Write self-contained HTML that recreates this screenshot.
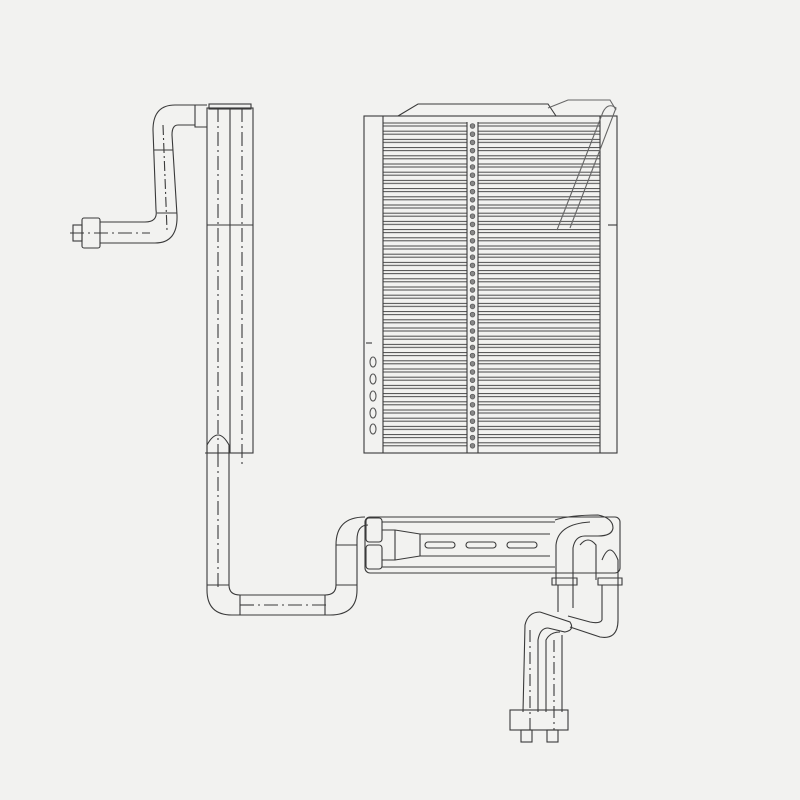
<!DOCTYPE html>
<html><head><meta charset="utf-8"><style>html,body{margin:0;padding:0;background:#f2f2f0}svg{display:block}</style></head>
<body>
<svg width="800" height="800" viewBox="0 0 800 800" xmlns="http://www.w3.org/2000/svg">
<defs>
<pattern id="fin" patternUnits="userSpaceOnUse" x="0" y="122" width="800" height="8.2">
<rect x="0" y="1" width="800" height="3" fill="none" stroke="#4a4a4a" stroke-width="1"/>
</pattern>
<pattern id="hole" patternUnits="userSpaceOnUse" x="0" y="122" width="800" height="8.2">
<circle cx="472.5" cy="4" r="2.4" fill="#888" stroke="#444" stroke-width=".6"/>
</pattern>
</defs>
<rect width="800" height="800" fill="#f2f2f0"/>
<rect x="383" y="122" width="84" height="328" fill="url(#fin)"/>
<rect x="478" y="122" width="122" height="328" fill="url(#fin)"/>
<rect x="467" y="122" width="11" height="328" fill="url(#hole)"/>
<g fill="none" stroke="#3a3a3a" stroke-width="1.1">
<!-- core -->
<rect x="364" y="116" width="253" height="337"/>
<line x1="383" y1="116" x2="383" y2="453"/>
<line x1="600" y1="116" x2="600" y2="453"/>
<path d="M398 116 L418 104 L548 104 L556 116"/>
<line x1="467" y1="122" x2="467" y2="453"/>
<line x1="478" y1="122" x2="478" y2="453"/>
<line x1="608" y1="225" x2="617" y2="225"/>
<line x1="366" y1="343" x2="372" y2="343"/>
<g stroke="#555">
<ellipse cx="373" cy="362" rx="3" ry="5"/><ellipse cx="373" cy="379" rx="3" ry="5"/><ellipse cx="373" cy="396" rx="3" ry="5"/><ellipse cx="373" cy="413" rx="3" ry="5"/><ellipse cx="373" cy="429" rx="3" ry="5"/>
</g>
<path d="M557 230 L603 112 Q608 102 616 108 L570 228" stroke="#666"/>
<path d="M548 108 L568 100 L610 100 L616 110" stroke="#666"/>
<!-- left column -->
<rect x="207" y="108" width="46" height="345"/>
<line x1="230" y1="108" x2="230" y2="453"/>
<line x1="218" y1="108" x2="218" y2="453" stroke-dasharray="14 4 2 4"/>
<line x1="242" y1="108" x2="242" y2="465" stroke-dasharray="14 4 2 4"/>
<line x1="207" y1="225" x2="253" y2="225"/>
<rect x="209" y="104" width="42" height="5"/>
<!-- upper left pipe -->
<path d="M207 105 L195 105 L195 127 L207 127"/>
<path d="M195 105 L175 105 Q153 105 153 130 L156 210 Q158 222 145 222 L100 222"/>
<path d="M195 125 L178 125 Q172 125 172 135 L177 215 Q178 243 155 243 L100 243"/>
<line x1="154" y1="150" x2="173" y2="150"/><line x1="157" y1="213" x2="177" y2="213"/>
<line x1="163" y1="125" x2="167" y2="230" stroke-dasharray="10 3 2 3"/>
<line x1="70" y1="233" x2="150" y2="233" stroke-dasharray="14 4 2 4"/>
<rect x="82" y="218" width="18" height="30" rx="2"/>
<rect x="73" y="225" width="9" height="16"/>
<!-- lower pipe from column -->
<path d="M207 453 L207 590 Q207 615 232 615 L330 615 Q357 615 357 590 L357 540 Q357 525 368 525"/>
<path d="M229 453 L229 585 Q229 595 240 595 L325 595 Q336 595 336 585 L336 545 Q336 517 365 517"/>
<path d="M207 453 L207 445 Q218 425 229 445 L229 453 Z"/>
<line x1="205" y1="453" x2="231" y2="453"/>
<line x1="218" y1="453" x2="218" y2="590" stroke-dasharray="14 4 2 4"/>
<line x1="240" y1="605" x2="330" y2="605" stroke-dasharray="14 4 2 4"/>
<line x1="207" y1="585" x2="229" y2="585"/><line x1="240" y1="595" x2="240" y2="615"/><line x1="325" y1="595" x2="325" y2="615"/><line x1="336" y1="585" x2="357" y2="585"/><line x1="336" y1="545" x2="357" y2="545"/>
<!-- header -->
<rect x="365" y="517" width="255" height="56" rx="5"/>
<rect x="366" y="518" width="16" height="24" rx="3"/>
<rect x="366" y="545" width="16" height="24" rx="3"/>
<line x1="382" y1="522" x2="555" y2="522"/><line x1="382" y1="567" x2="555" y2="567"/>
<path d="M382 530 L395 530 L420 534 L550 534 M382 560 L395 560 L420 556 L550 556"/>
<line x1="395" y1="530" x2="395" y2="560"/><line x1="420" y1="534" x2="420" y2="556"/>
<rect x="425" y="542" width="30" height="6" rx="3"/><rect x="466" y="542" width="30" height="6" rx="3"/><rect x="507" y="542" width="30" height="6" rx="3"/>
<!-- right bends -->
<path d="M555 520 Q570 515 598 515 Q613 518 613 528 Q612 536 598 536 L585 536 Q575 536 573 548 L573 585"/>
<path d="M556 585 L556 545 Q558 524 590 522"/>
<path d="M580 545 Q588 535 596 545 L596 580"/>
<path d="M602 560 Q610 540 618 560 L618 585"/>
<path d="M552 585 L577 585 L577 578 L552 578 Z"/>
<path d="M598 585 L622 585 L622 578 L598 578 Z"/>
<!-- descending pipes -->
<path d="M558 585 L558 612 M573 585 L573 608"/>
<path d="M602 585 L602 620 M618 585 L618 620 Q618 640 600 637 L570 627"/>
<path d="M602 620 Q600 624 590 622 L568 616"/>
<path d="M540 612 Q528 612 525 625 L523 712"/>
<path d="M548 628 Q540 628 538 640 L538 712"/>
<path d="M540 612 L570 622 Q575 630 565 632 L548 628"/>
<path d="M546 712 L546 640 Q550 632 560 632 M562 712 L562 635"/>
<line x1="530" y1="630" x2="530" y2="730" stroke-dasharray="12 4 2 4"/>
<line x1="554" y1="640" x2="554" y2="730" stroke-dasharray="12 4 2 4"/>
<rect x="510" y="710" width="58" height="20"/>
<rect x="521" y="730" width="11" height="12"/><rect x="547" y="730" width="11" height="12"/>
</g>
</svg>
</body></html>
